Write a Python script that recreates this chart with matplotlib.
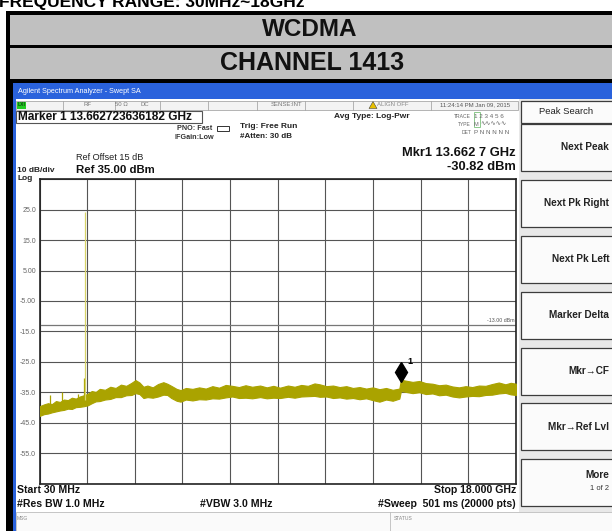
import numpy as np
import matplotlib.pyplot as plt
from matplotlib.patches import Rectangle, Polygon

plt.rcParams['font.family'] = ['Liberation Sans', 'DejaVu Sans']

W, H = 612, 531

# noise floor envelope (GHz, dBm)
freq_ghz = [0.03, 0.20, 0.35, 0.50, 0.65, 0.80, 0.95, 1.10, 1.25, 1.40, 1.55, 1.70,
            1.85, 2.00, 2.15, 2.30, 2.50, 2.70, 2.90, 3.10, 3.30, 3.50, 3.65, 3.80,
            3.95, 4.10, 4.30, 4.50, 4.70, 4.85, 5.00, 5.20, 5.35, 5.55, 5.80, 6.05,
            6.30, 6.55, 6.80, 7.05, 7.30, 7.55, 7.80, 8.05, 8.35, 8.60, 8.85, 9.10,
            9.40, 9.65, 9.90, 10.15, 10.40, 10.60, 10.85, 11.10, 11.35, 11.60, 11.85,
            12.10, 12.35, 12.60, 12.85, 13.10, 13.35, 13.60, 13.66, 13.85, 14.10,
            14.35, 14.60, 14.85, 15.10, 15.35, 15.60, 15.85, 16.10, 16.35, 16.60,
            16.85, 17.10, 17.35, 17.60, 17.80, 18.00]
floor_hi = [-39.6, -39.0, -38.6, -38.9, -37.9, -38.2, -37.4, -37.6, -36.8, -37.1, -36.4, -36.0,
            -35.5, -34.6, -34.9, -33.9, -34.2, -33.2, -33.6, -32.5, -32.9, -31.9, -31.0, -31.8,
            -33.2, -32.8, -33.4, -32.3, -31.7, -32.2, -32.9, -33.9, -34.3, -33.6, -33.9, -33.4,
            -33.8, -33.0, -33.5, -32.6, -32.9, -33.3, -32.7, -33.2, -32.8, -33.4, -32.9, -33.5,
            -32.8, -33.2, -32.6, -32.9, -32.1, -32.4, -33.0, -32.8, -33.3, -33.0, -33.6,
            -33.3, -33.8, -33.4, -34.0, -33.6, -34.2, -33.8, -30.9, -31.2, -31.6,
            -31.3, -32.0, -32.2, -32.7, -32.5, -33.1, -33.4, -33.0, -33.3, -32.8,
            -32.9, -32.3, -31.8, -32.4, -31.9, -32.2]
floor_lo = [-42.8, -42.2, -42.0, -41.6, -41.3, -41.0, -40.8, -40.4, -40.5, -39.9, -39.8, -39.6,
            -39.3, -38.6, -38.0, -37.9, -37.4, -37.2, -36.6, -36.6, -36.0, -35.9, -35.3, -35.6,
            -36.9, -36.6, -36.8, -36.4, -35.8, -35.9, -36.9, -37.8, -38.1, -37.4, -37.7, -37.3,
            -37.4, -37.0, -37.1, -36.7, -36.4, -36.9, -36.8, -37.0, -36.6, -37.0, -36.8, -36.9,
            -36.5, -36.8, -36.4, -36.3, -36.2, -36.5, -36.4, -36.9, -36.7, -37.1, -36.9,
            -37.3, -37.0, -37.6, -38.1, -37.4, -37.8, -37.1, -34.6, -34.9, -35.3,
            -35.0, -35.6, -35.4, -36.0, -35.8, -36.4, -36.7, -36.4, -36.2, -36.3,
            -35.9, -35.8, -35.4, -35.2, -35.7, -35.9]

carrier_ghz = 1.7326
carrier_dbm = 24.2
carrier_base = -37.5
spur_ghz = [0.43, 0.88, 1.48, 1.70]
spur_dbm = [-36.0, -34.8, -35.5, -30.3]
spur_base = [-40.0, -39.5, -38.5, -37.0]
marker_ghz = 13.6627
marker_dbm = -30.82
display_line = -13.0

y_ticks = [35, 25, 15, 5, -5, -15, -25, -35, -45, -55, -65]
y_labels = ['', '25.0', '15.0', '5.00', '-5.00', '-15.0', '-25.0', '-35.0', '-45.0', '-55.0', '']

softkeys = ['Next Peak', 'Next Pk Right', 'Next Pk Left', 'Marker Delta',
            'Mkr\u2192CF', 'Mkr\u2192Ref Lvl', 'More']
softkey_top = [124, 180, 236, 292, 348, 403, 459]

fig = plt.figure(figsize=(W / 100, H / 100), dpi=100)
bg = fig.add_axes([0, 0, 1, 1])
bg.set_xlim(0, W); bg.set_ylim(H, 0); bg.axis('off')


def box(x0, y0, x1, y1, fc, ec='none', lw=0, z=1):
    bg.add_patch(Rectangle((x0, y0), x1 - x0, y1 - y0, facecolor=fc,
                           edgecolor=ec, linewidth=lw, zorder=z))


def txt(x, y, s, size, ha='left', bold=False, color='#111111', **kw):
    bg.text(x, y, s, fontsize=size, ha=ha, va='center', color=color,
            fontweight='bold' if bold else 'normal', zorder=5, **kw)


# report table frame (page title is cut off at the top edge)
bg.text(-1, 7, 'FREQUENCY RANGE: 30MHz~18GHz', fontsize=12.5, fontweight='bold',
        va='baseline')
box(6, 11, 612, 14.5, 'black')
box(10, 14.5, 612, 44.5, '#c0c0c0')
box(6, 44.5, 612, 47.5, 'black')
box(10, 47.5, 612, 78.5, '#c0c0c0')
box(6, 78.5, 612, 82.5, 'black')
box(6, 11, 10, 531, 'black')
box(10, 82, 12.5, 531, 'black')
txt(310, 30, 'WCDMA', 17.5, ha='center', bold=True)
txt(312, 63.5, 'CHANNEL 1413', 18, ha='center', bold=True)

# analyzer window
box(12.5, 82.5, 15.5, 531, '#2a62dc')
box(12.5, 82.5, 612, 99, '#2a62dc')
box(15.5, 99, 612, 531, 'white')
txt(18, 91.5, 'Agilent Spectrum Analyzer - Swept SA', 5.2, color='white')

# status row
cells = [15.5, 63, 115, 160, 208, 257, 305, 353, 431, 518]
box(15.5, 100.5, 518, 109.5, '#f3f3f3', ec='#a8a8a8', lw=0.6)
for cx in cells[1:-1]:
    bg.plot([cx, cx], [100.5, 109.5], color='#a8a8a8', lw=0.6, zorder=2)
box(16.5, 101.5, 26, 108.5, '#22cc22', z=3)
txt(17.5, 105, 'LXI', 3.6, bold=True, color='#114411')
txt(88, 105, 'RF', 4.3, ha='center', color='#777777')
txt(121, 105, '50 \u03a9', 4.3, ha='center', color='#777777')
txt(145, 105, 'DC', 4.3, ha='center', color='#777777')
txt(302, 105, 'SENSE:INT', 4.3, ha='right', color='#777777')
bg.add_patch(Polygon([[369, 108.5], [377, 108.5], [373, 101.5]], closed=True,
                     facecolor='#e8c000', edgecolor='#444444', lw=0.4, zorder=3))
txt(377, 105, 'ALIGN OFF', 4.3, color='#888888')
txt(474.5, 105, '11:24:14 PM Jan 09, 2015', 4.3, ha='center', color='#555555')

# marker readout and settings
box(16, 110.5, 202, 122.5, 'white', ec='#555555', lw=0.8)
txt(18, 116.5, 'Marker 1 13.662723636182 GHz', 8.6, bold=True)
txt(212, 128.5, 'PNO: Fast', 5.2, ha='right', bold=True, color='#333333')
txt(214, 137.5, 'IFGain:Low', 5.2, ha='right', bold=True, color='#333333')
box(217, 126, 229, 130.5, 'white', ec='#333333', lw=0.7)
txt(240, 126, 'Trig: Free Run', 6.0, bold=True, color='#222222')
txt(240, 136, '#Atten: 30 dB', 5.8, bold=True, color='#222222')
txt(334, 117, 'Avg Type: Log-Pwr', 6.0, bold=True, color='#222222')
txt(471, 116, 'TRACE', 3.6, ha='right', color='#666666')
txt(471, 124, 'TYPE', 3.6, ha='right', color='#666666')
txt(471, 132, 'DET', 3.6, ha='right', color='#666666')
box(473.5, 112, 480, 127, 'none', ec='#7ac07a', lw=0.6)
txt(474, 116, '1 2 3 4 5 6', 4.5, color='#666666')
txt(474, 124, 'M', 4.0, color='#666666')
txt(480, 123.5, '\u223f\u223f\u223f\u223f\u223f', 4.5, color='#666666', family=['DejaVu Sans'])
txt(474, 132, 'P N N N N N', 4.5, color='#666666')
txt(76, 158, 'Ref Offset 15 dB', 6.6, color='#222222')
txt(17, 170.5, '10 dB/div', 6.0, bold=True, color='#222222')
txt(17, 178.5, 'Log', 6.0, bold=True, color='#222222')
txt(76, 170, 'Ref 35.00 dBm', 8.2, bold=True)
txt(516, 153, 'Mkr1 13.662 7 GHz', 9.3, ha='right', bold=True)
txt(516, 167, '-30.82 dBm', 9.3, ha='right', bold=True)

# footer
txt(17, 490, 'Start 30 MHz', 7.6, bold=True)
txt(516, 490, 'Stop 18.000 GHz', 7.6, ha='right', bold=True)
txt(17, 504, '#Res BW 1.0 MHz', 7.6, bold=True)
txt(236, 504, '#VBW 3.0 MHz', 7.6, ha='center', bold=True)
txt(516, 504, '#Sweep  501 ms (20000 pts)', 7.6, ha='right', bold=True)
box(15.5, 512, 612, 531, '#fafafa', ec='#bcbcbc', lw=0.6)
bg.plot([390, 390], [512, 531], color='#bcbcbc', lw=0.6, zorder=2)
txt(17, 519, 'MSG', 3.6, color='#888888')
txt(394, 519, 'STATUS', 3.6, color='#888888')

# softkey panel
box(519, 99, 612, 512, '#e8e8e8')
box(521, 101, 614, 123, '#fbfbfb', ec='#3c3c3c', lw=0.9, z=2)
txt(566, 112, 'Peak Search', 6.8, ha='center', color='#222222')
for label, top in zip(softkeys, softkey_top):
    box(521, top, 614, top + 47, '#fbfbfb', ec='#3c3c3c', lw=0.9, z=2)
    if label == 'More':
        txt(609, top + 16, label, 7.2, ha='right', bold=True, color='#222222')
        txt(609, top + 30, '1 of 2', 5.4, ha='right', color='#333333')
    else:
        txt(609, top + 23.5, label, 7.2, ha='right', bold=True, color='#222222')

# spectrum display
ax = fig.add_axes([39.5 / W, 1 - 483.5 / H, 476.5 / W, 304.2 / H])
ax.set_facecolor('white')
ax.set_xlim(0.03, 18.0)
ax.set_ylim(-65, 35)
ax.set_xticks(np.linspace(0.03, 18.0, 11))
ax.set_xticklabels([])
ax.set_yticks(y_ticks)
ax.set_yticklabels(y_labels)
ax.tick_params(length=0, labelsize=5, labelcolor='#666666', pad=2.5)
ax.grid(color='#555555', lw=0.8)
for s in ax.spines.values():
    s.set_color('#222222'); s.set_linewidth(1.2)

ax.axhline(display_line, color='#777777', lw=0.9)
ax.text(17.95, display_line + 0.6, '-13.00 dBm', fontsize=3.8, ha='right', va='bottom',
        color='#555555')
ax.fill_between(freq_ghz, floor_lo, floor_hi, color='#aaa300', lw=0.8, zorder=3)
ax.vlines(spur_ghz, spur_base, spur_dbm, color='#aaa300', lw=0.9, zorder=3)
ax.vlines(carrier_ghz, carrier_base, carrier_dbm, color='#d8d468', lw=0.9, zorder=3)
ax.plot(marker_ghz, marker_dbm + 2.6, marker='d', ms=10.5, color='black', zorder=4)
ax.text(marker_ghz + 0.25, marker_dbm + 5.2, '1', fontsize=6.5, fontweight='bold', zorder=4)

fig.savefig('out.png', dpi=100)
